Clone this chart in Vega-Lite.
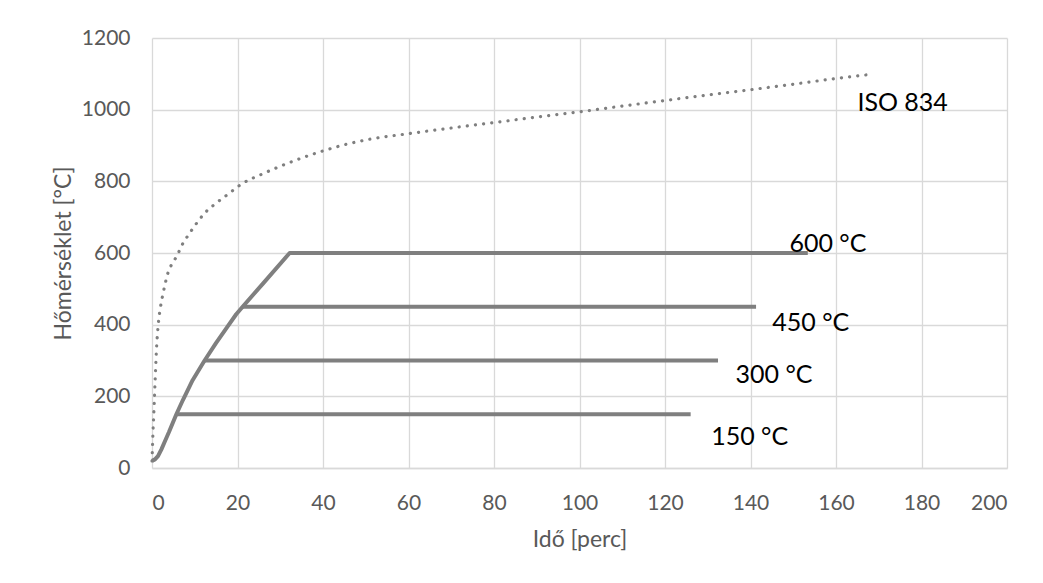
{
  "$schema": "https://vega.github.io/schema/vega-lite/v6.json",
  "autosize": "none",
  "width": 855,
  "height": 430,
  "padding": {"left": 152, "top": 38, "right": 36, "bottom": 115},
  "background": "white",
  "config": {
    "view": {"stroke": null},
    "font": "Lato",
    "axis": {
      "labelFont": "Lato", "labelFontSize": 21, "labelColor": "#595959",
      "titleFont": "Lato", "titleFontSize": 23, "titleColor": "#595959", "titleFontWeight": "normal",
      "gridColor": "#d9d9d9", "gridWidth": 1.3, "ticks": false
    }
  },
  "datasets": {
    "lines": [
      {"s": "ISO", "t": 0, "T": 20},
      {"s": "ISO", "t": 0.2, "T": 90},
      {"s": "ISO", "t": 0.5, "T": 175},
      {"s": "ISO", "t": 0.75, "T": 250},
      {"s": "ISO", "t": 1, "T": 320},
      {"s": "ISO", "t": 1.5, "T": 405},
      {"s": "ISO", "t": 2, "T": 450},
      {"s": "ISO", "t": 2.5, "T": 482},
      {"s": "ISO", "t": 3, "T": 510},
      {"s": "ISO", "t": 3.7, "T": 543},
      {"s": "ISO", "t": 5, "T": 576},
      {"s": "ISO", "t": 5.7, "T": 589},
      {"s": "ISO", "t": 7, "T": 622},
      {"s": "ISO", "t": 8.5, "T": 650},
      {"s": "ISO", "t": 10, "T": 676},
      {"s": "ISO", "t": 12.7, "T": 716},
      {"s": "ISO", "t": 15, "T": 739},
      {"s": "ISO", "t": 18, "T": 766},
      {"s": "ISO", "t": 20.9, "T": 792},
      {"s": "ISO", "t": 25.9, "T": 821},
      {"s": "ISO", "t": 30, "T": 842},
      {"s": "ISO", "t": 35, "T": 865},
      {"s": "ISO", "t": 40.3, "T": 886},
      {"s": "ISO", "t": 45, "T": 902},
      {"s": "ISO", "t": 51.6, "T": 919},
      {"s": "ISO", "t": 60, "T": 933},
      {"s": "ISO", "t": 68.8, "T": 947},
      {"s": "ISO", "t": 80, "T": 964},
      {"s": "ISO", "t": 93.8, "T": 985},
      {"s": "ISO", "t": 100, "T": 994},
      {"s": "ISO", "t": 110, "T": 1010},
      {"s": "ISO", "t": 120.3, "T": 1026},
      {"s": "ISO", "t": 130, "T": 1041},
      {"s": "ISO", "t": 140.2, "T": 1056},
      {"s": "ISO", "t": 150, "T": 1071},
      {"s": "ISO", "t": 160, "T": 1087},
      {"s": "ISO", "t": 168.6, "T": 1099},
      {"s": "600", "t": 0, "T": 20},
      {"s": "600", "t": 0.7, "T": 24},
      {"s": "600", "t": 1.4, "T": 33},
      {"s": "600", "t": 2.2, "T": 52},
      {"s": "600", "t": 3, "T": 74},
      {"s": "600", "t": 4, "T": 101},
      {"s": "600", "t": 5.7, "T": 150},
      {"s": "600", "t": 7.2, "T": 189},
      {"s": "600", "t": 9.5, "T": 245},
      {"s": "600", "t": 12.3, "T": 300},
      {"s": "600", "t": 15, "T": 349},
      {"s": "600", "t": 17.5, "T": 392},
      {"s": "600", "t": 19.7, "T": 429},
      {"s": "600", "t": 21.2, "T": 450},
      {"s": "600", "t": 25.9, "T": 514},
      {"s": "600", "t": 32.2, "T": 600},
      {"s": "600", "t": 153.4, "T": 600},
      {"s": "450", "t": 21.2, "T": 450},
      {"s": "450", "t": 141.3, "T": 450},
      {"s": "300", "t": 12.3, "T": 300},
      {"s": "300", "t": 132.4, "T": 300},
      {"s": "150", "t": 5.7, "T": 150},
      {"s": "150", "t": 126, "T": 150}
    ],
    "labels": [
      {"txt": "ISO 834", "t": 165, "T": 997},
      {"txt": "600 °C", "t": 149.1, "T": 603},
      {"txt": "450 °C", "t": 145.1, "T": 382.6},
      {"txt": "300 °C", "t": 136.5, "T": 237.5},
      {"txt": "150 °C", "t": 130.8, "T": 63.6}
    ]
  },
  "layer": [
    {
      "data": {"name": "lines"},
      "transform": [{"filter": "datum.s === 'ISO'"}],
      "mark": {"type": "line", "interpolate": "monotone", "color": "#7f7f7f", "strokeWidth": 3.2, "strokeDash": [0.1, 8.1], "strokeCap": "round"},
      "encoding": {
        "x": {"field": "t", "type": "quantitative", "scale": {"domain": [0, 200], "nice": false},
              "axis": {"values": [0,20,40,60,80,100,120,140,160,180,200], "format": "d", "title": "Idő [perc]", "labelPadding": 24, "titlePadding": 15, "domain": true, "domainColor": "#d9d9d9", "domainWidth": 1.3}},
        "y": {"field": "T", "type": "quantitative", "scale": {"domain": [0, 1200], "nice": false},
              "axis": {"values": [0,200,400,600,800,1000,1200], "format": "d", "title": "Hőmérséklet [°C]", "labelPadding": 22, "titlePadding": 6, "domain": false}},
        "order": {"field": "t", "type": "quantitative"}
      }
    },
    {
      "data": {"name": "lines"},
      "transform": [{"filter": "datum.s !== 'ISO'"}],
      "mark": {"type": "line", "interpolate": "linear", "color": "#7f7f7f", "strokeWidth": 4, "strokeCap": "butt", "strokeJoin": "round"},
      "encoding": {
        "x": {"field": "t", "type": "quantitative"},
        "y": {"field": "T", "type": "quantitative"},
        "detail": {"field": "s", "type": "nominal"},
        "order": {"field": "t", "type": "quantitative"}
      }
    },
    {
      "data": {"name": "labels"},
      "mark": {"type": "text", "align": "left", "baseline": "alphabetic", "font": "Lato", "fontSize": 25, "color": "#000000"},
      "encoding": {
        "x": {"field": "t", "type": "quantitative"},
        "y": {"field": "T", "type": "quantitative"},
        "text": {"field": "txt"}
      }
    }
  ]
}
